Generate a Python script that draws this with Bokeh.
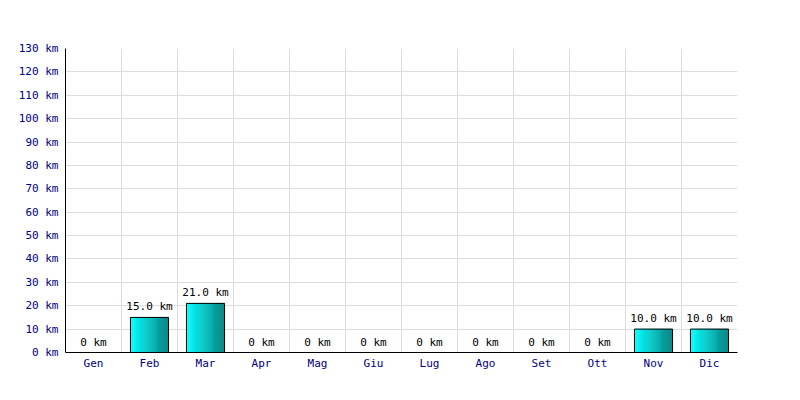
from bokeh.plotting import figure
from bokeh.models import FixedTicker, PrintfTickFormatter, ColumnDataSource, Range1d
from bokeh.core.properties import value
from bokeh.embed import file_html
from bokeh.resources import INLINE

months = ["Gen", "Feb", "Mar", "Apr", "Mag", "Giu", "Lug", "Ago", "Set", "Ott", "Nov", "Dic"]
km = [0, 15.0, 21.0, 0, 0, 0, 0, 0, 0, 0, 10.0, 10.0]
y_ticks = list(range(0, 131, 10))

FONT = "DejaVu Sans Mono"
BAR_W = 0.68
N_SLICES = 40

p = figure(width=784, height=384, output_backend="svg", toolbar_location=None,
           x_range=Range1d(0, len(months)), y_range=Range1d(0, 130),
           min_border_left=65, min_border_right=47, min_border_top=48, min_border_bottom=32)
p.outline_line_color = None
p.background_fill_color = "white"
p.border_fill_color = "white"

def lerp(a, b, t):
    return int(round(a + (b - a) * t))

c0 = (0, 255, 255)
c1 = (0, 128, 128)
lefts, rights, tops, colors = [], [], [], []
for i, v in enumerate(km):
    if v <= 0:
        continue
    x0 = i + 0.5 - BAR_W / 2
    for k in range(N_SLICES):
        t = k / (N_SLICES - 1)
        lefts.append(x0 + k * BAR_W / N_SLICES)
        rights.append(x0 + (k + 1) * BAR_W / N_SLICES)
        tops.append(v)
        colors.append("#%02x%02x%02x" % tuple(lerp(c0[j], c1[j], t) for j in range(3)))
p.quad(left=lefts, right=rights, bottom=0, top=tops, fill_color=colors,
       line_color=colors, line_width=0.5)

xs = [i + 0.5 for i, v in enumerate(km) if v > 0]
hs = [v for v in km if v > 0]
p.vbar(x=xs, top=hs, width=BAR_W, bottom=0, fill_alpha=0, line_color="black", line_width=1)

labels = ["%.1f km" % v if v > 0 else "0 km" for v in km]
src = ColumnDataSource(dict(x=[i + 0.5 for i in range(len(months))], y=km, t=labels))
p.text(x="x", y="y", text="t", source=src, text_align="center", text_baseline="bottom",
       y_offset=-4, text_font=value(FONT), text_font_size="11px", text_color="black")

p.xaxis.ticker = FixedTicker(ticks=[i + 0.5 for i in range(len(months))])
p.xaxis.major_label_overrides = {i + 0.5: m for i, m in enumerate(months)}
p.yaxis.ticker = FixedTicker(ticks=y_ticks)
p.yaxis.formatter = PrintfTickFormatter(format="%d km")
for ax in (p.xaxis, p.yaxis):
    ax.major_tick_line_color = None
    ax.minor_tick_line_color = None
    ax.major_tick_in = 0
    ax.major_tick_out = 0
    ax.axis_line_color = "black"
    ax.axis_line_width = 1
    ax.major_label_text_font = FONT
    ax.major_label_text_font_size = "11px"
    ax.major_label_text_color = "#000080"
p.yaxis.major_label_standoff = 7
p.xaxis.major_label_standoff = 4

p.xgrid.ticker = FixedTicker(ticks=list(range(len(months) + 1)))
p.ygrid.ticker = FixedTicker(ticks=y_ticks)
p.xgrid.grid_line_color = "#dddddd"
p.ygrid.grid_line_color = "#dddddd"

open("out.html", "w").write(file_html(p, INLINE))
